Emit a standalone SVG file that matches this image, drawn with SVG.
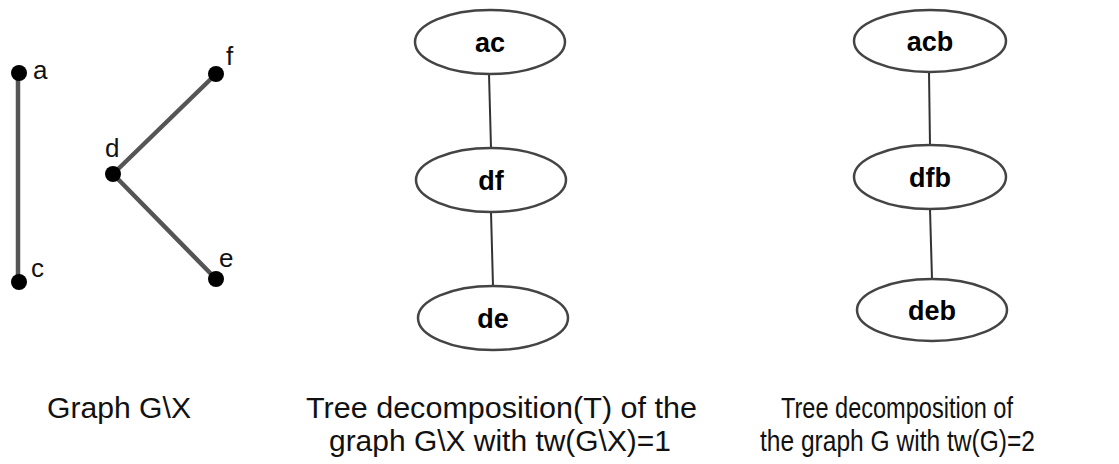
<svg xmlns="http://www.w3.org/2000/svg" width="1119" height="464" viewBox="0 0 1119 464">
  <style>
    .edge { stroke: #555; stroke-width: 4.5; stroke-linecap: round; }
    .tedge { stroke: #333; stroke-width: 2; }
    .dot { fill: #000; }
    .vlabel { font-family: "Liberation Sans", Arial, sans-serif; font-size: 26px; fill: #111; }
    .bag { fill: #fff; stroke: #444; stroke-width: 2.5; }
    .bagtext { font-family: "Liberation Sans", Arial, sans-serif; font-size: 27px; font-weight: bold; fill: #000; text-anchor: middle; }
    .caption { font-family: "Liberation Sans", Arial, sans-serif; font-size: 30px; fill: #111; }
  </style>

  <!-- graph G\X edges and tree edges -->
  <g id="connectors">
    <line class="edge" x1="18" y1="73" x2="18" y2="282"/>
    <line class="edge" x1="113" y1="174" x2="216" y2="74"/>
    <line class="edge" x1="113" y1="174" x2="216" y2="279"/>
    <line class="tedge" x1="489" y1="74" x2="491" y2="148"/>
    <line class="tedge" x1="491" y1="212" x2="493" y2="286"/>
    <line class="tedge" x1="929" y1="72" x2="930" y2="145"/>
    <line class="tedge" x1="930" y1="209" x2="932" y2="279"/>
  </g>

  <!-- graph G\X vertices -->
  <g id="vertex-a"><circle class="dot" cx="19" cy="73" r="8"/><text class="vlabel" x="33" y="79">a</text></g>
  <g id="vertex-c"><circle class="dot" cx="19" cy="282" r="8"/><text class="vlabel" x="31" y="277">c</text></g>
  <g id="vertex-d"><circle class="dot" cx="113" cy="174" r="8"/><text class="vlabel" x="105" y="157">d</text></g>
  <g id="vertex-f"><circle class="dot" cx="216" cy="74" r="8"/><text class="vlabel" x="226" y="65">f</text></g>
  <g id="vertex-e"><circle class="dot" cx="216" cy="279" r="8"/><text class="vlabel" x="219" y="267">e</text></g>

  <!-- tree decomposition T of G\X -->
  <g id="bag-ac"><ellipse class="bag" cx="490" cy="42" rx="75" ry="32"/><text class="bagtext" x="490" y="52">ac</text></g>
  <g id="bag-df"><ellipse class="bag" cx="491" cy="180" rx="75" ry="32"/><text class="bagtext" x="491" y="190">df</text></g>
  <g id="bag-de"><ellipse class="bag" cx="493" cy="318" rx="75" ry="32"/><text class="bagtext" x="493" y="328">de</text></g>

  <!-- tree decomposition of G -->
  <g id="bag-acb"><ellipse class="bag" cx="930" cy="41" rx="76" ry="31"/><text class="bagtext" x="930" y="51">acb</text></g>
  <g id="bag-dfb"><ellipse class="bag" cx="930" cy="177" rx="76" ry="32"/><text class="bagtext" x="930" y="187">dfb</text></g>
  <g id="bag-deb"><ellipse class="bag" cx="932" cy="310" rx="75" ry="31"/><text class="bagtext" x="932" y="320">deb</text></g>

  <!-- captions -->
  <g id="captions">
    <text class="caption" x="47" y="418" textLength="144" lengthAdjust="spacingAndGlyphs">Graph G\X</text>
    <text class="caption" x="306" y="418" textLength="391" lengthAdjust="spacingAndGlyphs">Tree decomposition(T) of the</text>
    <text class="caption" x="329" y="451" textLength="342" lengthAdjust="spacingAndGlyphs">graph G\X with tw(G\X)=1</text>
    <text class="caption" x="781" y="418" textLength="232" lengthAdjust="spacingAndGlyphs">Tree decomposition of</text>
    <text class="caption" x="760" y="451" textLength="275" lengthAdjust="spacingAndGlyphs">the graph G with tw(G)=2</text>
  </g>
</svg>
